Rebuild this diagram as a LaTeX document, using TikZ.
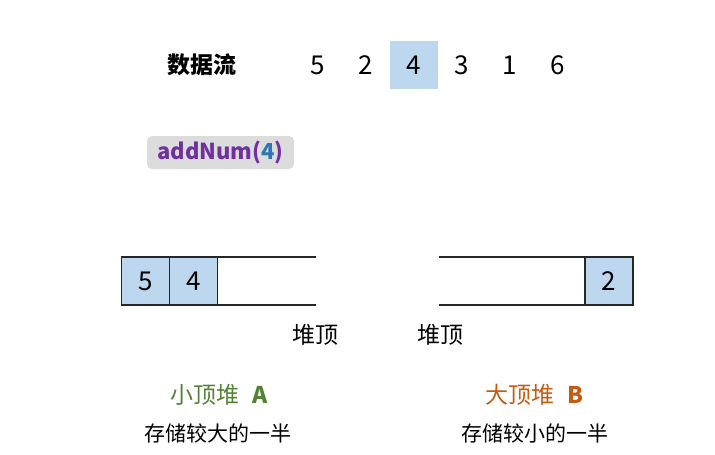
\documentclass[tikz,border=0pt]{standalone}
\usepackage{fontspec}
\setmainfont{Noto Sans CJK SC}
\usepackage{tikz}
\usetikzlibrary{positioning}
\definecolor{cellblue}{HTML}{BDD7EE}
\definecolor{callgray}{HTML}{DCDCDC}
\definecolor{callpurple}{HTML}{7030A0}
\definecolor{argblue}{HTML}{2E75B6}
\definecolor{heapgreen}{HTML}{548235}
\definecolor{heaporange}{HTML}{C55A11}

\begin{document}
\begin{tikzpicture}[x=1pt, y=-1pt, cell/.style={draw=black!85, fill=cellblue, line width=1.2pt, minimum size=48pt, inner sep=0pt, outer sep=0pt, font=\fontsize{26}{30}\selectfont}, num/.style={minimum size=48pt, inner sep=0pt, outer sep=0pt, font=\fontsize{26}{30}\selectfont}, label/.style={font=\fontsize{23}{27}\selectfont, inner sep=0pt}, edge/.style={draw=black!85, line width=1.2pt}]
    \useasboundingbox (0,0) rectangle (715,455);

    %Nodes
    \node[label, font=\fontsize{23}{27}\selectfont\bfseries](stream) at (202,65){数据流};
    \node[num](s5) at (318,65){5};
    \node[num](s2)[right=0pt of s5]{2};
    \node[num, fill=cellblue](s4)[right=0pt of s2]{4};
    \node[num](s3)[right=0pt of s4]{3};
    \node[num](s1)[right=0pt of s3]{1};
    \node[num](s6)[right=0pt of s1]{6};
    \node[fill=callgray, rounded corners=5pt, minimum width=147pt, minimum height=33pt, inner sep=0pt, font=\fontsize{22}{26}\selectfont\bfseries](call) at (220.5,152.5){\textcolor{callpurple}{addNum(}\textcolor{argblue}{4}\textcolor{callpurple}{)}};

    \node[cell](a5) at (145.5,281){5};
    \node[cell](a4)[right=0pt of a5]{4};
    \coordinate (atop) at (316,257);
    \coordinate (abot) at (316,305);
    \node[cell](b2) at (609,281){2};
    \coordinate (btop) at (439,257);
    \coordinate (bbot) at (439,305);

    \node[label](alabel) at (315,335){堆顶};
    \node[label](blabel) at (440,335){堆顶};
    \node[label, text=heapgreen](aname) at (219,395){小顶堆\hspace{13pt}\textbf{A}};
    \node[label, font=\fontsize{21}{25}\selectfont](adesc) at (218,433){存储较大的一半};
    \node[label, text=heaporange](bname) at (534,395){大顶堆\hspace{13pt}\textbf{B}};
    \node[label, font=\fontsize{21}{25}\selectfont](bdesc) at (535,433){存储较小的一半};

    %Lines
    \draw[edge] (a4.north east) -- (atop);
    \draw[edge] (a4.south east) -- (abot);
    \draw[edge] (b2.north west) -- (btop);
    \draw[edge] (b2.south west) -- (bbot);

\end{tikzpicture}
\end{document}
